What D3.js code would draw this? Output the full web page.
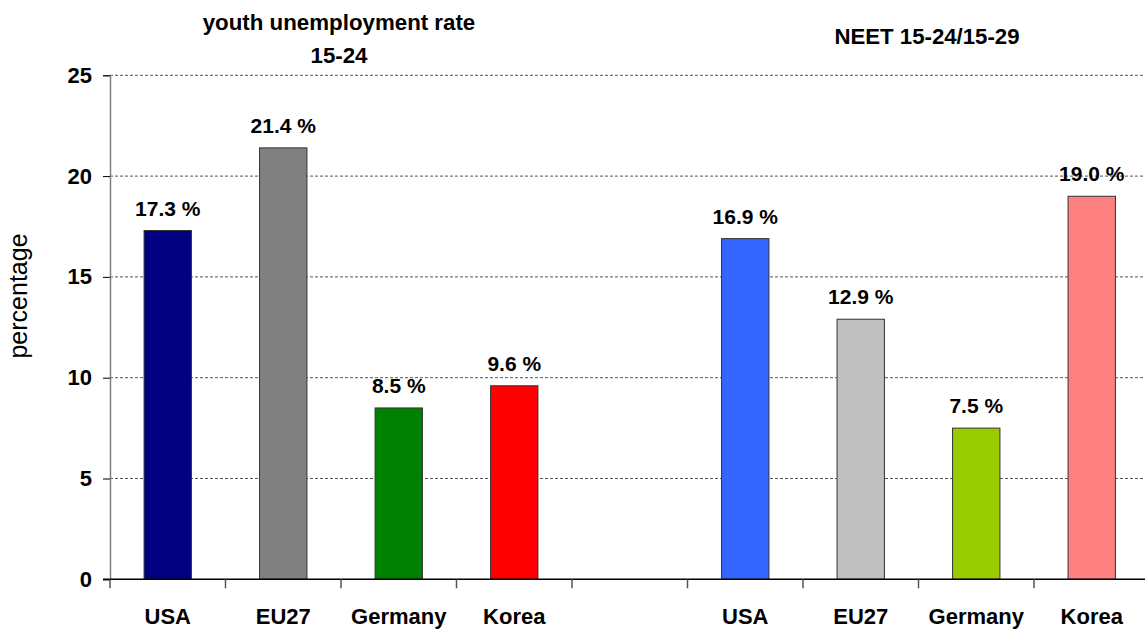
<!DOCTYPE html>
<html>
<head>
<meta charset="utf-8">
<script src="https://cdn.jsdelivr.net/npm/d3@7"></script>
<style>
  body { margin: 0; background: #fff; }
  svg { display: block; font-family: "Liberation Sans", Arial, sans-serif; }
</style>
</head>
<body>
<svg width="1145" height="629"></svg>
<script>
// categories for both panels
const countries = ["USA", "EU27", "Germany", "Korea"];
// youth unemployment rate 15-24
const youthValues = [17.3, 21.4, 8.5, 9.6];
// NEET 15-24/15-29
const neetValues = [16.9, 12.9, 7.5, 19.0];
const youthColors = ["#000080", "#808080", "#008000", "#ff0000"];
const neetColors = ["#3366ff", "#c0c0c0", "#99cc00", "#ff8080"];
const yTicks = [0, 5, 10, 15, 20, 25];

const svg = d3.select("svg");
const plotLeft = 110, plotTop = 75.3, plotBottom = 579.3;
const slotW = 115.5;

// build the slots: 4 youth bars, one empty slot, 4 NEET bars
let bars = [];
countries.forEach((c, i) => bars.push({ key: "y" + i, name: c, value: youthValues[i], color: youthColors[i] }));
let slots = bars.map(d => d.key).concat(["gap"]);
countries.forEach((c, i) => {
    bars.push({ key: "n" + i, name: c, value: neetValues[i], color: neetColors[i] });
    slots.push("n" + i);
});

const slotScale = d3.scaleBand().domain(slots).range([plotLeft, plotLeft + slots.length * slotW]);
const xScale = d3.scaleBand().domain(slots).range(slotScale.range())
    .paddingInner(0.59).paddingOuter(0.295);
const yScale = d3.scaleLinear().domain([0, 25]).range([plotBottom, plotTop]);

// gridlines
svg.append("g").selectAll("line")
    .data(yTicks.filter(t => t > 0))
    .enter().append("line")
    .attr("x1", plotLeft).attr("x2", 1145)
    .attr("y1", d => yScale(d)).attr("y2", d => yScale(d))
    .attr("stroke", "#555").attr("stroke-width", 1)
    .attr("stroke-dasharray", "3,2");

// bars
svg.append("g").selectAll("rect")
    .data(bars)
    .enter().append("rect")
    .attr("x", d => xScale(d.key))
    .attr("width", xScale.bandwidth())
    .attr("y", d => yScale(d.value))
    .attr("height", d => plotBottom - yScale(d.value))
    .attr("fill", d => d.color)
    .attr("stroke", "#333").attr("stroke-width", 1);

// value labels
svg.append("g").selectAll("text")
    .data(bars)
    .enter().append("text")
    .attr("x", d => xScale(d.key) + xScale.bandwidth() / 2)
    .attr("y", d => yScale(d.value) - 15)
    .attr("text-anchor", "middle")
    .style("font-size", "21px").style("font-weight", "bold")
    .text(d => d.value.toFixed(1) + " %");

// y axis
const yAxis = d3.axisLeft(yScale).tickValues(yTicks).tickSize(7).tickPadding(11);
const gy = svg.append("g").attr("transform", "translate(" + plotLeft + ",0)").call(yAxis);
gy.select(".domain").attr("stroke", "#808080").attr("stroke-width", 1.5);
gy.selectAll(".tick line").attr("stroke", "#000");
gy.selectAll(".tick text").style("font-size", "22px").style("font-weight", "bold")
    .style("font-family", "'Liberation Sans', Arial, sans-serif").attr("fill", "#000");

// x axis: labels at the centre, ticks at the slot edges
const xAxis = d3.axisBottom(slotScale).tickSize(0).tickPadding(29)
    .tickFormat(k => { const b = bars.find(d => d.key === k); return b ? b.name : ""; });
const gx = svg.append("g").attr("transform", "translate(0," + plotBottom + ")").call(xAxis);
gx.select(".domain").remove();
gx.selectAll(".tick text").style("font-size", "22px").style("font-weight", "bold")
    .style("font-family", "'Liberation Sans', Arial, sans-serif").attr("fill", "#000");

svg.append("line")
    .attr("x1", plotLeft - 7).attr("x2", 1145)
    .attr("y1", plotBottom).attr("y2", plotBottom)
    .attr("stroke", "#000").attr("stroke-width", 1.5);
svg.append("g").selectAll("line")
    .data(slots)
    .enter().append("line")
    .attr("x1", d => slotScale(d)).attr("x2", d => slotScale(d))
    .attr("y1", plotBottom).attr("y2", plotBottom + 9)
    .attr("stroke", "#555").attr("stroke-width", 1.5);

// titles
svg.append("text").attr("x", 339).attr("y", 30).attr("text-anchor", "middle")
    .style("font-size", "22.3px").style("font-weight", "bold").text("youth unemployment rate");
svg.append("text").attr("x", 339).attr("y", 63).attr("text-anchor", "middle")
    .style("font-size", "22.3px").style("font-weight", "bold").text("15-24");
svg.append("text").attr("x", 927).attr("y", 44).attr("text-anchor", "middle")
    .style("font-size", "22.2px").style("font-weight", "bold").text("NEET 15-24/15-29");

// y label
svg.append("text")
    .attr("transform", "translate(27,296) rotate(-90)")
    .attr("text-anchor", "middle")
    .style("font-size", "25px")
    .text("percentage");
</script>
</body>
</html>
